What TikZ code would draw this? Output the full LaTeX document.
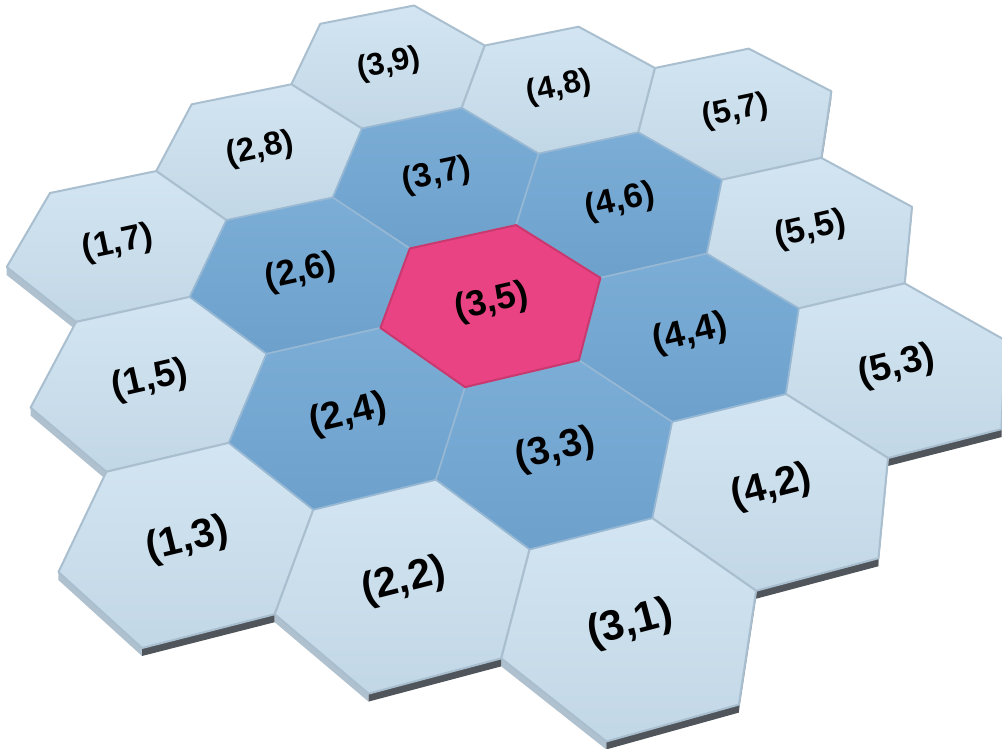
\documentclass[tikz,border=0pt]{standalone}
\usepackage{fontspec}
\setmainfont{Liberation Sans}
\usetikzlibrary{calc}
\definecolor{celllight}{HTML}{D3E5F2}
\definecolor{celllightlow}{HTML}{C2D7E6}
\definecolor{ringblue}{HTML}{7BADD6}
\definecolor{ringbluelow}{HTML}{6DA1CC}
\definecolor{hotpink}{HTML}{EA4383}
\definecolor{groove}{HTML}{A9BFCF}
\definecolor{slabdark}{HTML}{50555B}
\definecolor{slablight}{HTML}{AFC1CE}
\definecolor{slabmid}{HTML}{8A98A4}
\tikzset{
  outercell/.style={top color=celllight, bottom color=celllightlow, draw=groove, line width=2pt, line join=round},
  ringcell/.style={top color=ringblue, bottom color=ringbluelow, draw=ringblue!85!gray!80!white, line width=1.6pt, line join=round},
  centrecell/.style={fill=hotpink, draw=hotpink!85!black, line width=2pt, line join=round},
  sidedark/.style={fill=slabdark},
  sidelight/.style={fill=slablight},
  sidemid/.style={fill=slabmid},
  celllabel/.style={inner sep=0pt, text=black}
}

% plane (u,v) -> picture, perspective fitted by eye
\newcommand{\planept}[3]{%
  \pgfmathsetmacro{\hexS}{((#2)-1)/6}%
  \pgfmathsetmacro{\hexT}{((#3)-1.732)/5.196}%
  \pgfmathsetmacro{\hexW}{1+0.081864*\hexS+0.264585*\hexT}%
  \pgfmathsetmacro{\hexX}{(818.70*\hexS-78.77*\hexT+142)/\hexW}%
  \pgfmathsetmacro{\hexY}{(-152.51*\hexS-403.93*\hexT+648)/\hexW}%
  \coordinate (#1) at (\hexX,\hexY);}

% corners ca..cf of cell (i,j), flat top
\newcommand{\cellcorners}[2]{%
  \pgfmathsetmacro{\cellU}{1.5*#1}%
  \pgfmathsetmacro{\cellV}{0.866*#2}%
  \planept{ca}{\cellU-0.5}{\cellV+0.866}%
  \planept{cb}{\cellU+0.5}{\cellV+0.866}%
  \planept{cc}{\cellU+1}{\cellV}%
  \planept{cd}{\cellU+0.5}{\cellV-0.866}%
  \planept{ce}{\cellU-0.5}{\cellV-0.866}%
  \planept{cf}{\cellU-1}{\cellV}}

\newcommand{\cellside}[2]{%
  \cellcorners{#1}{#2}%
  \fill[sidemid] (cc) -- (cd) -- ($(cd)+(0,8)$) -- ($(cc)+(0,8)$) -- cycle;
  \fill[sidelight] (ce) -- (cf) -- ($(cf)+(0,8)$) -- ($(ce)+(0,8)$) -- cycle;
  \fill[sidedark] (cd) -- (ce) -- ($(ce)+(0,8)$) -- ($(cd)+(0,8)$) -- cycle;}

\newcommand{\celltop}[3]{%
  \cellcorners{#1}{#2}%
  \path[#3] (ca) -- (cb) -- (cc) -- (cd) -- (ce) -- (cf) -- cycle;
  \planept{cm}{\cellU}{\cellV}%
  \pgfmathsetmacro{\labsize}{42.5/\hexW}%
  \path let \p1 = ($(cc)-(cf)$), \n1 = {atan2(\y1,\x1)} in
    node[celllabel, rotate=\n1, font=\fontsize{\labsize}{\labsize}\selectfont\bfseries] (lab#1#2) at (cm) {(#1,#2)};}

\begin{document}
\begin{tikzpicture}[x=1pt, y=-1pt]
    \path[use as bounding box, fill=white] (0,0) rectangle (1002,749);

    % slab sides first
    \foreach \i/\j in {3/9,2/8,4/8,5/7,1/7,3/7,2/6,4/6,5/5,1/5,3/5,2/4,4/4,5/3,1/3,3/3,2/2,4/2,3/1}
      {\cellside{\i}{\j}}

    % outer ring
    \foreach \i/\j in {3/9,2/8,4/8,5/7,1/7,5/5,1/5,5/3,1/3,2/2,4/2,3/1}
      {\celltop{\i}{\j}{outercell}}

    % inner ring
    \foreach \i/\j in {3/7,2/6,4/6,2/4,4/4,3/3}
      {\celltop{\i}{\j}{ringcell}}

    % centre
    \celltop{3}{5}{centrecell}
\end{tikzpicture}
\end{document}
